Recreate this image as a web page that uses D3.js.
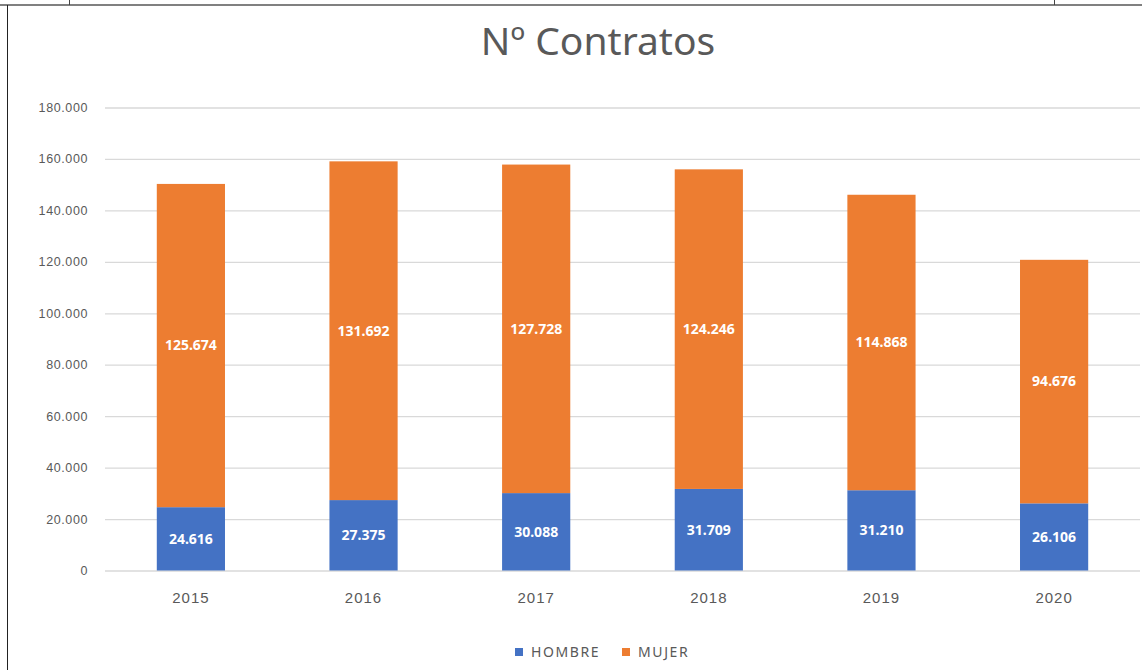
<!DOCTYPE html>
<html>
<head>
<meta charset="utf-8">
<script src="https://cdn.jsdelivr.net/npm/d3@7"></script>
<style>
	body { margin: 0; background: #fff; }
	svg { display: block; font-family: "Noto Sans", sans-serif; }
</style>
</head>
<body>
<div id="chart"></div>
<script>
const years = ["2015", "2016", "2017", "2018", "2019", "2020"];
const hombre = [24616, 27375, 30088, 31709, 31210, 26106];
const mujer = [125674, 131692, 127728, 124246, 114868, 94676];
const yTicks = [0, 20000, 40000, 60000, 80000, 100000, 120000, 140000, 160000, 180000];
const seriesNames = ["HOMBRE", "MUJER"];
const colors = ["#4472C4", "#ED7D31"];

const width = 1142,
	height = 670,
	margin = { top: 107.5, right: 2, bottom: 99.5, left: 105 };

const locale = d3.formatLocale({ decimal: ",", thousands: ".", grouping: [3], currency: ["", "€"] });
const fmt = locale.format(",d");

const svg = d3
	.select("#chart")
	.append("svg")
	.attr("width", width)
	.attr("height", height);

// frame from the page the chart was pasted in
svg.append("line").attr("x1", 0).attr("x2", width).attr("y1", 5).attr("y2", 5)
	.attr("stroke", "#808080").attr("stroke-width", 2);
svg.append("line").attr("x1", 7.5).attr("x2", 7.5).attr("y1", 5).attr("y2", height)
	.attr("stroke", "#222").attr("stroke-width", 1);
[69.5, 1054.5].forEach((x) => {
	svg.append("line").attr("x1", x).attr("x2", x).attr("y1", 0).attr("y2", 5)
		.attr("stroke", "#444").attr("stroke-width", 1);
});

const x = d3
	.scaleBand()
	.domain(years)
	.range([margin.left, width - margin.right])
	.paddingInner(0.605)
	.paddingOuter(0.3);

const y = d3
	.scaleLinear()
	.domain([0, 180000])
	.range([height - margin.bottom, margin.top]);

// title
svg.append("text")
	.attr("x", 598)
	.attr("y", 55)
	.attr("text-anchor", "middle")
	.attr("fill", "#595959")
	.style("font-size", "39px")
	.text("Nº Contratos");

// gridlines + y labels
const yAxis = d3.axisLeft(y)
	.tickValues(yTicks)
	.tickSize(-(width - margin.right - margin.left))
	.tickPadding(17)
	.tickFormat(fmt);

svg.append("g")
	.attr("transform", `translate(${margin.left},0)`)
	.call(yAxis)
	.call((g) => g.select(".domain").remove())
	.call((g) => g.selectAll(".tick line").attr("stroke", "#d9d9d9").attr("stroke-width", 1.3))
	.call((g) => g.selectAll(".tick text").attr("fill", "#595959")
		.style("font-size", "12.5px").style("letter-spacing", "0.6px"));

// x labels
const xAxis = d3.axisBottom(x).tickSize(0).tickPadding(22);
svg.append("g")
	.attr("transform", `translate(0,${y(0)})`)
	.call(xAxis)
	.call((g) => g.select(".domain").remove())
	.call((g) => g.selectAll(".tick text").attr("fill", "#595959")
		.style("font-size", "15px").style("letter-spacing", "1px"));

const stackData = years.map((yr, i) => ({ year: yr, HOMBRE: hombre[i], MUJER: mujer[i] }));
const series = d3.stack().keys(seriesNames)(stackData);

const groups = svg.selectAll(".serie")
	.data(series)
	.enter()
	.append("g")
	.attr("class", "serie")
	.attr("fill", (d, i) => colors[i]);

groups.selectAll("rect")
	.data((d) => d)
	.enter()
	.append("rect")
	.attr("x", (d) => x(d.data.year))
	.attr("width", x.bandwidth())
	.attr("y", (d) => y(d[1]))
	.attr("height", (d) => y(d[0]) - y(d[1]));

groups.selectAll("text")
	.data((d) => d)
	.enter()
	.append("text")
	.attr("x", (d) => x(d.data.year) + x.bandwidth() / 2)
	.attr("y", (d) => y((d[0] + d[1]) / 2))
	.attr("dy", "0.35em")
	.attr("text-anchor", "middle")
	.attr("fill", "#fff")
	.style("font-size", "14px")
	.style("font-weight", "bold")
	.text((d) => fmt(d[1] - d[0]));

// legend
const legend = svg.append("g").attr("transform", "translate(515,652)");
const legendX = [0, 107];
seriesNames.forEach((name, i) => {
	const lg = legend.append("g").attr("transform", `translate(${legendX[i]},0)`);
	lg.append("rect").attr("x", 0).attr("y", -4).attr("width", 8).attr("height", 8).attr("fill", colors[i]);
	lg.append("text")
		.attr("x", 16)
		.attr("dy", "0.35em")
		.attr("fill", "#595959")
		.style("font-size", "14px")
		.style("letter-spacing", "1.6px")
		.text(name);
});
</script>
</body>
</html>
